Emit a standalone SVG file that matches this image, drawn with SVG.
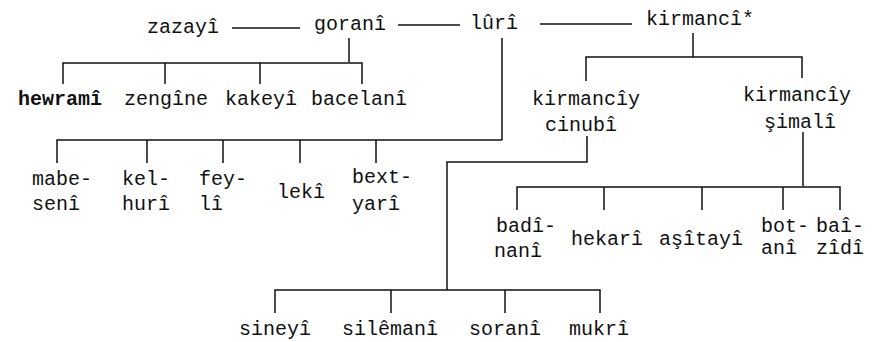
<svg xmlns="http://www.w3.org/2000/svg" width="873" height="342" viewBox="0 0 873 342">
<style>
text{font-family:"Liberation Mono","DejaVu Sans Mono",monospace;font-size:20px;fill:#111}
.m{text-anchor:middle}
.b{font-weight:bold}
#connectors path{fill:none;stroke:#111;stroke-width:1.5}
</style>
<rect width="873" height="342" fill="#fff"/>
<g id="connectors">
<path d="M232 28H300"/>
<path d="M398 25H460"/>
<path d="M540 24H632"/>
<path d="M349 38V62"/>
<path d="M63 84V63H362V84"/>
<path d="M165 63V84M260 63V84"/>
<path d="M502 38V140"/>
<path d="M57 163V140H502"/>
<path d="M147 140V163M223 140V163M300 140V163M376 140V163"/>
<path d="M693 33V57"/>
<path d="M586 81V57H802V78"/>
<path d="M587 136V162H447V290"/>
<path d="M275 313V290H600V313"/>
<path d="M391 290V313M505 290V313"/>
<path d="M803 132V186"/>
<path d="M517 210V187H840V210"/>
<path d="M604 187V210M702 187V210M783 187V210"/>
</g>
<g id="zazayi"><text class="m" x="183" y="33">zazayî</text></g>
<g id="gorani"><text class="m" x="350" y="30">goranî</text></g>
<g id="luri"><text class="m" x="494" y="29">lûrî</text></g>
<g id="kirmanci"><text class="m" x="700" y="25">kirmancî*</text></g>
<g id="hewrami"><text class="m b" x="60" y="105">hewramî</text></g>
<g id="zengine"><text class="m" x="166" y="105">zengîne</text></g>
<g id="kakeyi"><text class="m" x="261" y="105">kakeyî</text></g>
<g id="bacelani"><text class="m" x="359" y="105">bacelanî</text></g>
<g id="mabeseni"><text x="32" y="185">mabe-</text><text x="32" y="210">senî</text></g>
<g id="kelhuri"><text x="122" y="185">kel-</text><text x="122" y="210">hurî</text></g>
<g id="feyli"><text x="199" y="185">fey-</text><text x="199" y="210">lî</text></g>
<g id="leki"><text x="277" y="198">lekî</text></g>
<g id="bextyari"><text x="352" y="183">bext-</text><text x="352" y="210">yarî</text></g>
<g id="kirmanciy-cinubi"><text class="m" x="586" y="105">kirmancîy</text><text class="m" x="581" y="131">cinubî</text></g>
<g id="kirmanciy-simali"><text class="m" x="797" y="101">kirmancîy</text><text class="m" x="800" y="128">şimalî</text></g>
<g id="badinani"><text x="496" y="232">badî-</text><text x="494" y="257">nanî</text></g>
<g id="hekari"><text x="571" y="245">hekarî</text></g>
<g id="asitayi"><text x="659" y="245">aşîtayî</text></g>
<g id="botani"><text x="761" y="232">bot-</text><text x="761" y="254">anî</text></g>
<g id="baizidi"><text x="816" y="232">baî-</text><text x="816" y="254">zîdî</text></g>
<g id="sineyi"><text x="239" y="335">sineyî</text></g>
<g id="silemani"><text x="342" y="335">silêmanî</text></g>
<g id="sorani"><text x="469" y="335">soranî</text></g>
<g id="mukri"><text x="569" y="335">mukrî</text></g>
</svg>
